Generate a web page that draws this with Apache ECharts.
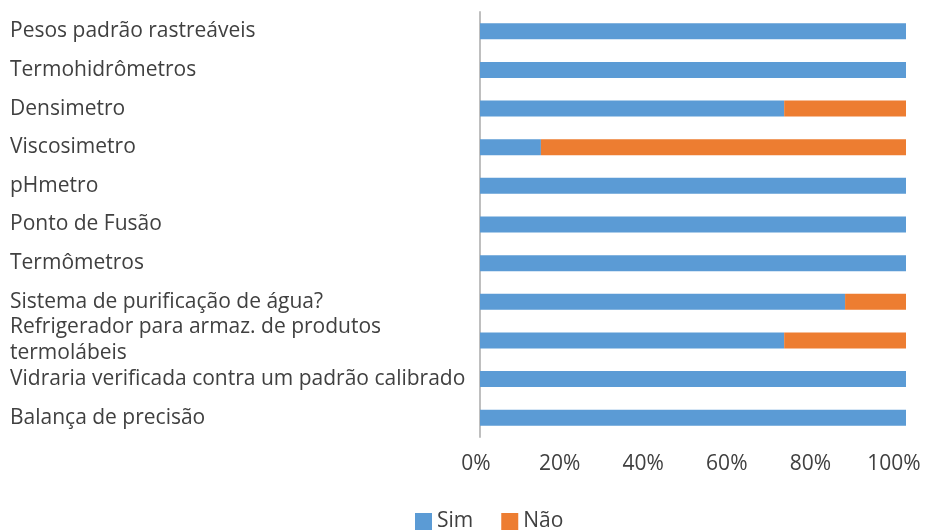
<!DOCTYPE html>
<html>
<head>
<meta charset="utf-8">
<script src="https://cdn.jsdelivr.net/npm/echarts@6/dist/echarts.min.js"></script>
<style>
  html, body { margin: 0; padding: 0; background: #fff; }
  #chart { width: 935px; height: 530px; }
</style>
</head>
<body>
<div id="chart"></div>
<script>
// Equipment items, listed top to bottom
const categories = [
  "Pesos padrão rastreáveis",
  "Termohidrômetros",
  "Densimetro",
  "Viscosimetro",
  "pHmetro",
  "Ponto de Fusão",
  "Termômetros",
  "Sistema de purificação de água?",
  "Refrigerador para armaz. de produtos\ntermolábeis",
  "Vidraria verificada contra um padrão calibrado",
  "Balança de precisão"
];
// Share of answers (%)
const sim = [100, 100, 71.4, 14.3, 100, 100, 100, 85.7, 71.4, 100, 100];
const nao = [0, 0, 28.6, 85.7, 0, 0, 0, 14.3, 28.6, 0, 0];
const tickLabels = ["0%", "20%", "40%", "60%", "80%", "100%"];

const FONT = "'Open Sans', 'Noto Sans', sans-serif";
const chart = echarts.init(document.getElementById('chart'), null, { renderer: 'canvas' });

chart.setOption({
  animation: false,
  textStyle: { fontFamily: FONT },
  grid: [
    // bars
    { left: 480, right: 29, top: 12, bottom: 93, containLabel: false },
    // percentage scale, set a little tighter than the bars
    { left: 476, right: 41, top: 12, bottom: 93, containLabel: false }
  ],
  legend: {
    left: 410,
    bottom: -7,
    itemWidth: 17,
    itemHeight: 17,
    itemGap: 28,
    icon: 'rect',
    textStyle: { fontFamily: FONT, fontSize: 21, color: '#404040' },
    data: ['Sim', 'Não']
  },
  xAxis: [
    {
      gridIndex: 0,
      type: 'value',
      min: 0,
      max: 100,
      interval: 20,
      axisLine: { show: false },
      axisTick: { show: false },
      splitLine: { show: false },
      axisLabel: { show: false }
    },
    {
      gridIndex: 1,
      type: 'value',
      min: 0,
      max: 100,
      interval: 20,
      axisLine: { show: false },
      axisTick: { show: false },
      splitLine: { show: false },
      axisLabel: {
        margin: 17,
        fontFamily: FONT,
        fontSize: 21,
        color: '#404040',
        formatter: v => tickLabels[Math.round(v / 20)]
      }
    }
  ],
  yAxis: [
    {
      gridIndex: 0,
      type: 'category',
      inverse: true,
      data: categories,
      axisLine: { show: true, lineStyle: { color: '#bfbfbf', width: 2 } },
      axisTick: { show: false },
      axisLabel: {
        align: 'left',
        margin: 470,
        fontFamily: FONT,
        fontSize: 21,
        lineHeight: 26,
        color: '#404040'
      }
    },
    {
      gridIndex: 1,
      type: 'category',
      inverse: true,
      data: categories,
      show: false
    }
  ],
  series: [
    {
      name: 'Sim',
      type: 'bar',
      stack: 'total',
      xAxisIndex: 0,
      yAxisIndex: 0,
      barWidth: 16,
      data: sim,
      itemStyle: { color: '#5b9bd5' }
    },
    {
      name: 'Não',
      type: 'bar',
      stack: 'total',
      xAxisIndex: 0,
      yAxisIndex: 0,
      barWidth: 16,
      data: nao,
      itemStyle: { color: '#ed7d31' }
    }
  ]
});
</script>
</body>
</html>
